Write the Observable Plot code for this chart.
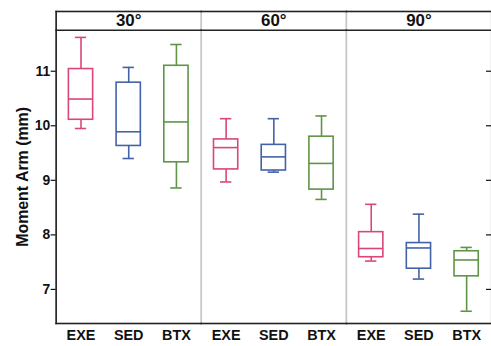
<!DOCTYPE html>
<html><head><meta charset="utf-8">
<script src="https://cdn.jsdelivr.net/npm/d3@7"></script>
<script src="https://cdn.jsdelivr.net/npm/@observablehq/plot@0.6"></script>
<style>html,body{margin:0;padding:0;overflow:hidden;background:#fff}</style>
</head><body><div id="chart"></div>
<script>
const angles = ["30°", "60°", "90°"];
const groups = ["EXE", "SED", "BTX"];
const colors = ["#d8467a", "#4262a8", "#5f9446"];
// per angle: [EXE, SED, BTX]
const whiskerLow  = [[9.95, 9.40, 8.86], [8.97, 9.15, 8.65], [7.52, 7.19, 6.60]];
const q1          = [[10.11, 9.63, 9.33], [9.20, 9.18, 8.83], [7.59, 7.38, 7.24]];
const median      = [[10.49, 9.89, 10.07], [9.60, 9.43, 9.31], [7.75, 7.76, 7.54]];
const q3          = [[11.04, 10.79, 11.10], [9.75, 9.65, 9.80], [8.05, 7.85, 7.70]];
const whiskerHigh = [[11.62, 11.07, 11.49], [10.13, 10.13, 10.18], [8.56, 8.38, 7.77]];
const yTicks = [7, 8, 9, 10, 11];
const yLabel = "Moment Arm (mm)";

const rows = [];
angles.forEach((a, i) => groups.forEach((g, j) => rows.push({
  angle: a, group: g,
  lo: whiskerLow[i][j], q1: q1[i][j], med: median[i][j], q3: q3[i][j], hi: whiskerHigh[i][j]
})));

const font = "'Liberation Sans', Arial, Helvetica, sans-serif";
const sw = 1.6;
const boxInset = 11.8, capInset = 18.3;

const chart = Plot.plot({
  width: 494, height: 346,
  marginLeft: 56, marginRight: 0, marginTop: 30, marginBottom: 21,
  style: {fontFamily: font, color: "#111", background: "#fff"},
  fx: {domain: angles, padding: 0, axis: null},
  x: {domain: groups, padding: 0},
  y: {domain: [6.375, 11.75]},
  color: {domain: groups, range: colors},
  marks: [
    Plot.frame({stroke: "#c8c8c8", strokeWidth: 1.5, insetTop: -19}),
    Plot.frame({anchor: "top", stroke: "#222", strokeWidth: 1.6, dy: -19}),
    Plot.frame({anchor: "top", stroke: "#222", strokeWidth: 1.6}),
    Plot.frame({anchor: "bottom", stroke: "#222", strokeWidth: 1.6}),
    Plot.frame({anchor: "left", stroke: "#222", strokeWidth: 1.6, insetTop: -19, facetAnchor: "left"}),
    Plot.text(angles, {fx: d => d, text: d => d, frameAnchor: "top", lineAnchor: "middle", dy: -10, fontSize: 17, fontWeight: "bold", fill: "#111"}),
    Plot.ruleX(rows, {fx: "angle", x: "group", y1: "lo", y2: "q1", stroke: "group", strokeWidth: sw}),
    Plot.ruleX(rows, {fx: "angle", x: "group", y1: "q3", y2: "hi", stroke: "group", strokeWidth: sw}),
    Plot.tickY(rows, {fx: "angle", x: "group", y: "lo", stroke: "group", strokeWidth: sw, inset: capInset}),
    Plot.tickY(rows, {fx: "angle", x: "group", y: "hi", stroke: "group", strokeWidth: sw, inset: capInset}),
    Plot.barY(rows, {fx: "angle", x: "group", y1: "q1", y2: "q3", fill: "white", stroke: "group", strokeWidth: sw, insetLeft: boxInset, insetRight: boxInset}),
    Plot.tickY(rows, {fx: "angle", x: "group", y: "med", stroke: "group", strokeWidth: sw, inset: boxInset}),
    Plot.axisY({ticks: yTicks, tickFormat: d => String(d), tickSize: 5, tickPadding: 1, fontSize: 14, fontWeight: "bold", label: null, strokeWidth: 1.2}),
    Plot.axisY({anchor: "right", ticks: yTicks, tickSize: 6, dx: -6, tickFormat: () => "", label: null, strokeWidth: 1.2}),
    Plot.axisX({tickSize: 0, tickPadding: 6, fontSize: 14.5, fontWeight: "bold", label: null}),
    Plot.text([yLabel], {text: d => d, frameAnchor: "left", textAnchor: "middle", lineAnchor: "middle", rotate: -90, dx: -33, fontSize: 16, fontWeight: "bold", fill: "#111", facetAnchor: "left"})
  ]
});
document.getElementById("chart").appendChild(chart);
</script>
</body></html>
